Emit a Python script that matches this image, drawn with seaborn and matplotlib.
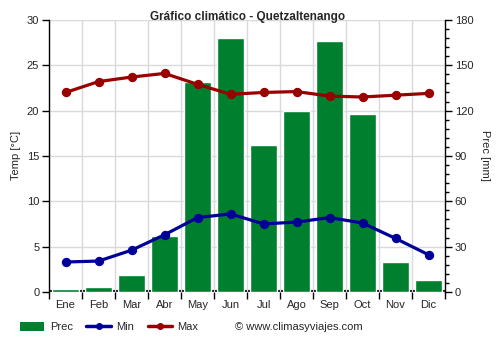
import matplotlib
matplotlib.use("Agg")
import matplotlib.pyplot as plt
from matplotlib.lines import Line2D
from matplotlib.patches import Patch
from matplotlib.ticker import MultipleLocator, FixedLocator
import numpy as np
import pandas as pd
import seaborn as sns

months = ["Ene", "Feb", "Mar", "Abr", "May", "Jun", "Jul", "Ago", "Sep", "Oct", "Nov", "Dic"]
prec = [2, 3, 11, 37, 139, 168, 97, 120, 166, 118, 20, 8]
tmin = [3.3, 3.4, 4.6, 6.3, 8.2, 8.6, 7.5, 7.7, 8.2, 7.6, 5.9, 4.1]
tmax = [22.0, 23.2, 23.7, 24.1, 22.9, 21.8, 22.0, 22.1, 21.6, 21.5, 21.7, 21.9]

GREEN = "#007f2f"
BLUE = "#000099"
RED = "#990000"
GRID = "#d9d9d9"

sns.set_theme(style="white")
plt.rcParams["font.family"] = ["Liberation Sans", "DejaVu Sans"]
plt.rcParams["font.size"] = 8

df = pd.DataFrame({"mes": months, "prec": prec, "tmin": tmin, "tmax": tmax})

fig = plt.figure(figsize=(5, 3.5), dpi=100)
ax = fig.add_axes([0.098, 0.166, 0.792, 0.777])  # temperature (left axis, front)
ax2 = ax.twinx()                                  # precipitation (right axis, back)
ax.set_zorder(ax2.get_zorder() + 1)
ax.patch.set_visible(False)

# Precipitation bars
sns.barplot(data=df, x="mes", y="prec", order=months, color=GREEN, width=0.8,
            saturation=1, ax=ax2, zorder=2)
ax2.set_ylim(0, 180)
ax2.yaxis.set_major_locator(MultipleLocator(30))
ax2.yaxis.set_minor_locator(MultipleLocator(6))
ax2.set_ylabel("Prec [mm]", rotation=270, labelpad=12, fontsize=8)
ax2.set_xlabel("")
ax2.axhline(0, color="black", lw=3, zorder=1)
ax2.tick_params(axis="y", which="major", direction="out", length=5, width=1,
                color="black", labelsize=8, right=True, left=False,
                labelright=True, labelleft=False, pad=2)
ax2.tick_params(axis="y", which="minor", direction="out", length=3, width=1,
                color="black", right=True, left=False)
for s in ["top", "bottom", "left"]:
    ax2.spines[s].set_visible(False)
ax2.spines["right"].set_color("black")
ax2.spines["right"].set_linewidth(1)

# Temperature lines
sns.pointplot(data=df, x="mes", y="tmax", order=months, color=RED, ax=ax,
              markers="o", markersize=5, linewidth=2.3)
sns.pointplot(data=df, x="mes", y="tmin", order=months, color=BLUE, ax=ax,
              markers="o", markersize=5, linewidth=2.3)
ax.set_xlim(-0.5, 11.5)
ax.set_ylim(0, 30)
ax.yaxis.set_major_locator(MultipleLocator(5))
ax.set_ylabel("Temp [°C]", fontsize=8, labelpad=4)
ax.set_xlabel("")
ax.xaxis.set_minor_locator(FixedLocator(np.arange(-0.5, 12, 1)))
ax.tick_params(axis="y", direction="out", length=5, width=1, color="black",
               labelsize=8, left=True, right=False, labelleft=True,
               labelright=False, pad=2)
ax.tick_params(axis="x", which="major", length=0, labelsize=8, pad=6)
ax.tick_params(axis="x", which="minor", direction="out", length=5, width=1,
               color="black", bottom=True)
for s in ["top", "bottom", "right"]:
    ax.spines[s].set_visible(False)
ax.spines["left"].set_color("black")
ax.spines["left"].set_linewidth(1)
ax2.tick_params(axis="x", which="both", length=0, labelbottom=False)

# Horizontal grid under the bars; vertical grid falls in the gaps between bars
ax2.set_axisbelow(True)
ax2.grid(True, which="major", axis="y", color=GRID, lw=1)
ax.set_axisbelow(True)
ax.grid(False, which="major")
ax.grid(True, which="minor", axis="x", color=GRID, lw=1)

fig.text(0.495, 0.951, "Gráfico climático - Quetzaltenango", ha="center",
         va="center", fontsize=8.5, fontweight="bold")

handles = [
    Patch(facecolor=GREEN, edgecolor="none", label="Prec"),
    Line2D([0], [0], color=BLUE, lw=2.5, marker="o", markersize=4, label="Min"),
    Line2D([0], [0], color=RED, lw=2.5, marker="o", markersize=4, label="Max"),
]
fig.legend(handles=handles, loc="center left", bbox_to_anchor=(0.02, 0.066),
           ncol=3, frameon=False, fontsize=8, handlelength=2.2,
           handleheight=0.9, columnspacing=1.2, handletextpad=0.5)
fig.text(0.47, 0.066, "© www.climasyviajes.com", ha="left", va="center", fontsize=8)

fig.savefig("out.png", dpi=100)
